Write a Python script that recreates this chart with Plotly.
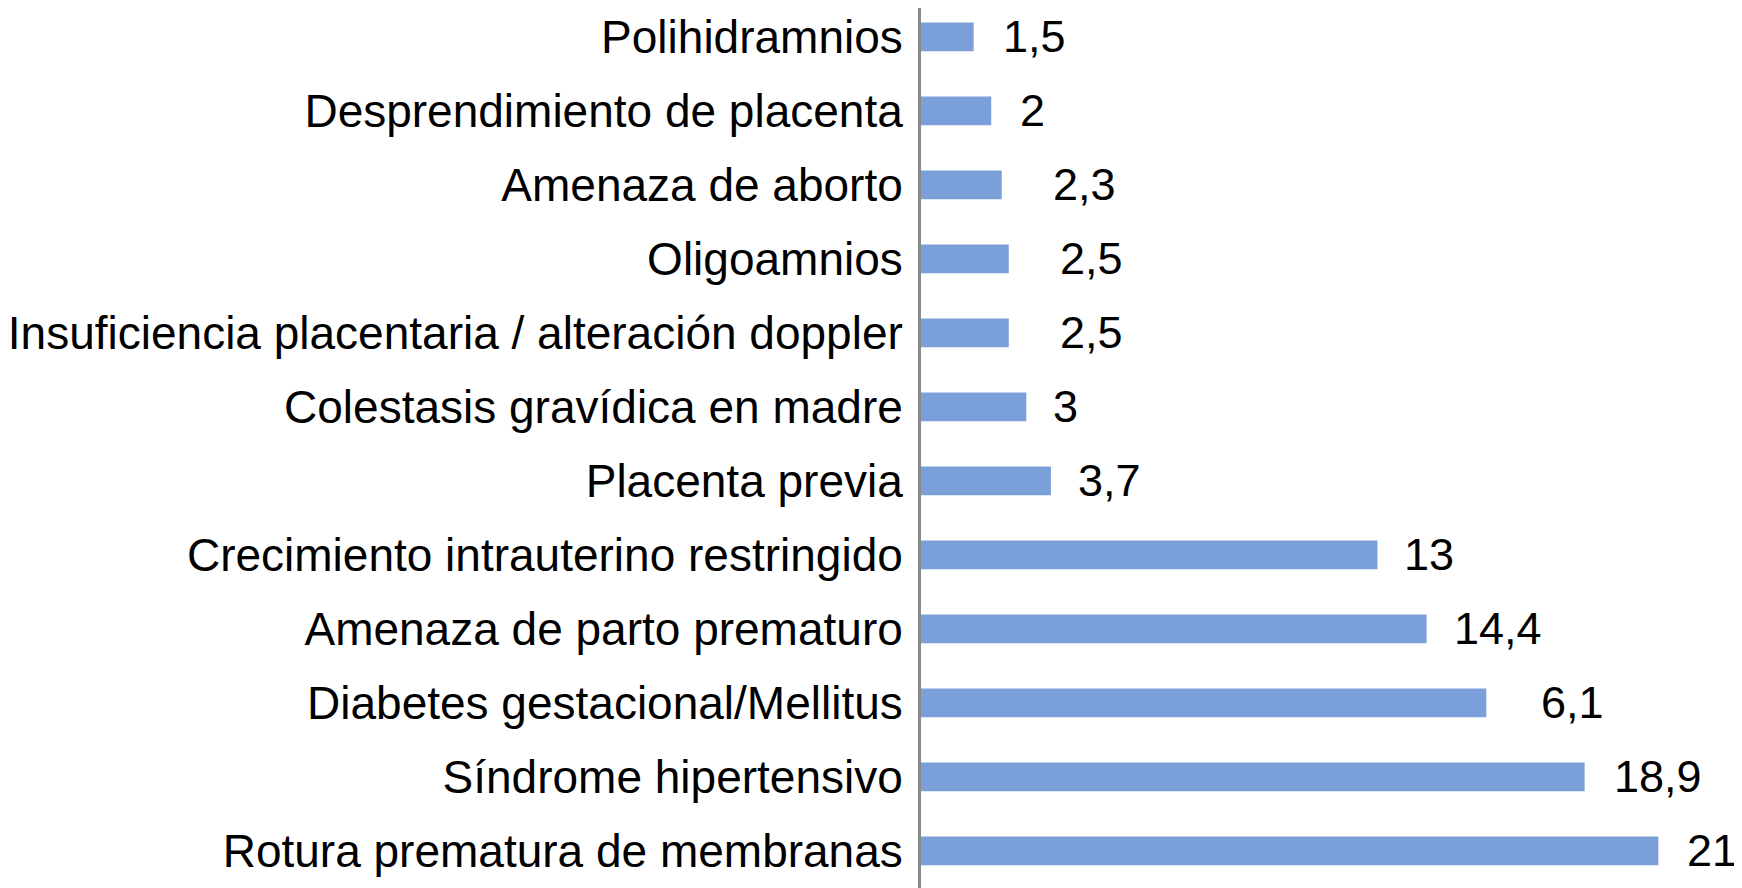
import plotly.graph_objects as go

categories = [
    "Polihidramnios",
    "Desprendimiento de placenta",
    "Amenaza de aborto",
    "Oligoamnios",
    "Insuficiencia placentaria / alteración doppler",
    "Colestasis gravídica en madre",
    "Placenta previa",
    "Crecimiento intrauterino restringido",
    "Amenaza de parto prematuro",
    "Diabetes gestacional/Mellitus",
    "Síndrome hipertensivo",
    "Rotura prematura de membranas",
]
values = [1.5, 2.0, 2.3, 2.5, 2.5, 3.0, 3.7, 13.0, 14.4, 16.1, 18.9, 21.0]
value_labels = ["1,5", "2", "2,3", "2,5", "2,5", "3", "3,7", "13", "14,4", "6,1", "18,9", "21"]

# style: horizontal gap (px) between bar end and its label
label_gap = [30, 30, 52, 52, 52, 28, 28, 28, 28, 56, 30, 30]

FONT = "Arial, Liberation Sans, Helvetica, sans-serif"
BAR_COLOR = "#7b9fd8"

fig = go.Figure(
    go.Bar(
        x=values,
        y=categories,
        orientation="h",
        marker=dict(color=BAR_COLOR, line=dict(width=0)),
        hoverinfo="skip",
    )
)

for cat, v, lab, gap in zip(categories, values, value_labels, label_gap):
    fig.add_annotation(
        x=v, y=cat, text=lab, showarrow=False,
        xanchor="left", yanchor="middle", xshift=gap - 3, yshift=0,
        font=dict(family=FONT, size=45, color="#000000"),
    )

fig.update_layout(
    width=1742, height=888,
    margin=dict(l=910, r=0, t=0, b=0, pad=0),
    paper_bgcolor="white", plot_bgcolor="white",
    bargap=0.61,
    showlegend=False,
    font=dict(family=FONT, size=46, color="#000000"),
)
fig.update_xaxes(
    range=[0, 23.61], showgrid=False, zeroline=False, showticklabels=False,
    showline=False, fixedrange=True,
)
fig.update_yaxes(
    categoryorder="array", categoryarray=categories, range=[11.61, -0.39],
    showgrid=False, zeroline=False, showline=True, linecolor="#8a8a8a", linewidth=3,
    ticks="", ticklabelstandoff=6, tickfont=dict(family=FONT, size=46, color="#000000"),
    fixedrange=True,
)

fig.write_html("out.html")
